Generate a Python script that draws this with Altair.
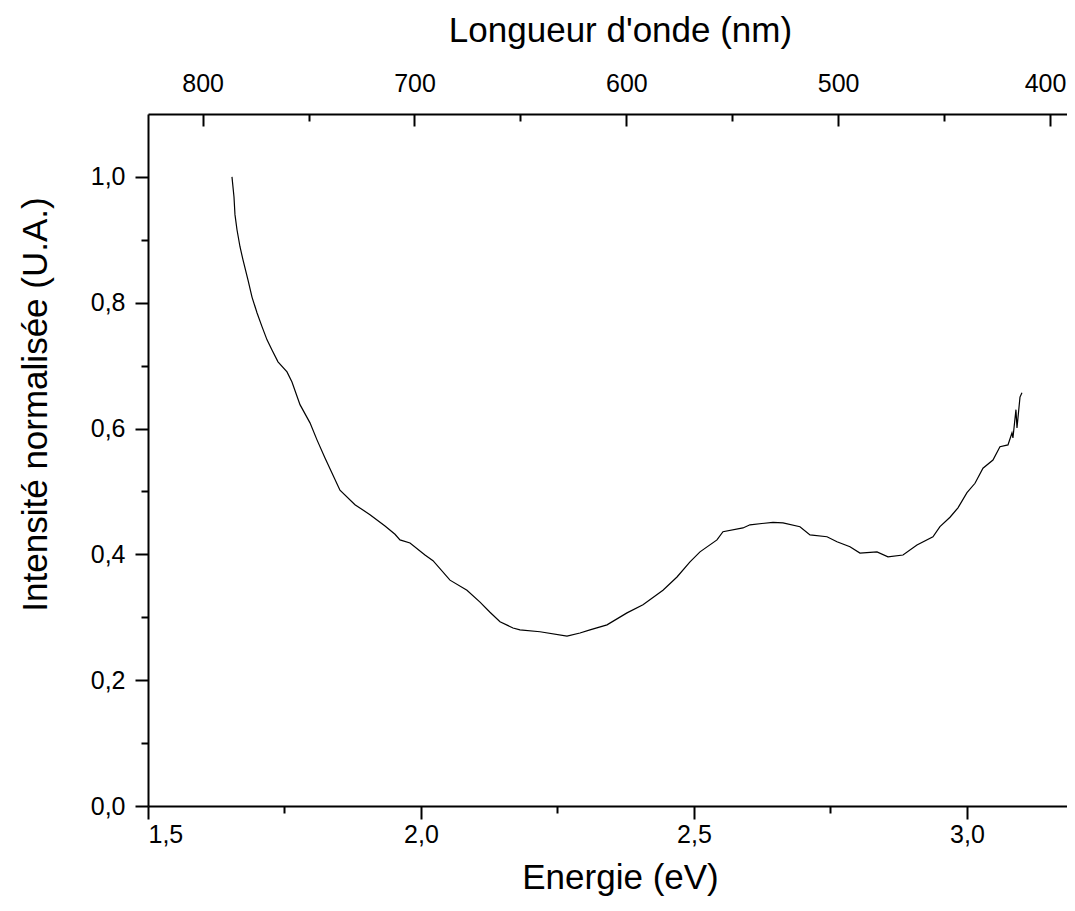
import altair as alt
import pandas as pd

# ---- data ----
energy = [1.6538, 1.6575, 1.6593, 1.6630, 1.6685, 1.6740, 1.6832, 1.6905, 1.6996, 1.7088,
          1.7180, 1.7271, 1.7381, 1.7546, 1.7637, 1.7784, 1.7967, 1.8095, 1.8242, 1.8516,
          1.8791, 1.9066, 1.9341, 1.9524, 1.9615, 1.9799, 2.0073, 2.0220, 2.0531, 2.0842,
          2.1081, 2.1264, 2.1447, 2.1685, 2.1813, 2.2179, 2.2674, 2.2912, 2.3095, 2.3407,
          2.3773, 2.4066, 2.4432, 2.4689, 2.4927, 2.5110, 2.5421, 2.5531, 2.5897, 2.6026,
          2.6447, 2.6630, 2.6941, 2.7125, 2.7436, 2.7619, 2.7857, 2.8040, 2.8352, 2.8553,
          2.8828, 2.9084, 2.9377, 2.9505, 2.9689, 2.9835, 3.0000, 3.0147, 3.0293, 3.0476,
          3.0604, 3.0751, 3.0824, 3.0842, 3.0897, 3.0916, 3.0971, 3.1007]
intensity = [1.000, 0.968, 0.940, 0.916, 0.889, 0.868, 0.836, 0.809, 0.784, 0.762,
             0.741, 0.725, 0.706, 0.690, 0.674, 0.638, 0.609, 0.582, 0.553, 0.502,
             0.479, 0.463, 0.445, 0.432, 0.423, 0.418, 0.399, 0.390, 0.359, 0.343,
             0.324, 0.308, 0.293, 0.283, 0.280, 0.277, 0.270, 0.275, 0.280, 0.288,
             0.307, 0.320, 0.343, 0.364, 0.388, 0.404, 0.423, 0.436, 0.442, 0.447,
             0.451, 0.450, 0.444, 0.431, 0.428, 0.420, 0.412, 0.402, 0.404, 0.396,
             0.399, 0.415, 0.428, 0.444, 0.459, 0.474, 0.498, 0.513, 0.537, 0.550,
             0.571, 0.574, 0.593, 0.585, 0.630, 0.601, 0.650, 0.657]

x_major = [1.5, 2.0, 2.5, 3.0]
x_minor = [1.75, 2.25, 2.75]
y_major = [0.0, 0.2, 0.4, 0.6, 0.8, 1.0]
y_minor = [0.1, 0.3, 0.5, 0.7, 0.9]
wl_major = [400, 500, 600, 700, 800]
wl_minor = [450, 550, 650, 750]

X_DOMAIN = [1.5, 3.1832]
Y_DOMAIN = [0.0, 1.1]
WL_DOMAIN = [391.98, 825.8]

W, H = 919, 692
FONT = "Liberation Sans"
TICK_FS = 25
TITLE_FS = 35
comma = "replace(format(datum.value, '.1f'), '.', ',')"

df = pd.DataFrame({"E": energy, "I": intensity})
wl_df = pd.DataFrame({"wl": wl_major})

xs = alt.Scale(domain=X_DOMAIN, nice=False, zero=False)
ys = alt.Scale(domain=Y_DOMAIN, nice=False, zero=False)
ws = alt.Scale(domain=WL_DOMAIN, nice=False, zero=False, reverse=True)

common = dict(domainColor="black", tickColor="black", labelColor="black",
              titleColor="black", labelFont=FONT, titleFont=FONT, grid=False)

line = alt.Chart(df).mark_line(color="black", strokeWidth=1.2).encode(
    x=alt.X("E:Q", scale=xs, axis=alt.Axis(
        orient="bottom", values=x_major, tickSize=13, tickWidth=2, domainWidth=2,
        labelExpr=comma, labelFontSize=TICK_FS, labelPadding=3,
        title="Energie (eV)", titleFontSize=TITLE_FS, titleFontWeight="normal",
        titleY=71, titleX=472, titleBaseline="middle", **common)),
    y=alt.Y("I:Q", scale=ys, axis=alt.Axis(
        orient="left", values=y_major, tickSize=13, tickWidth=2, domainWidth=2,
        labelExpr=comma, labelFontSize=TICK_FS, labelPadding=10,
        title="Intensité normalisée (U.A.)", titleFontSize=TITLE_FS,
        titleFontWeight="normal", titleX=-113, titleY=290,
        titleBaseline="middle", **common)),
)

minor = alt.Chart(df).mark_point(opacity=0).encode(
    x=alt.X("E:Q", scale=xs, axis=alt.Axis(
        orient="bottom", values=x_minor, tickSize=7, tickWidth=2, domain=False,
        labels=False, title=None, tickColor="black", grid=False)),
    y=alt.Y("I:Q", scale=ys, axis=alt.Axis(
        orient="left", values=y_minor, tickSize=7, tickWidth=2, domain=False,
        labels=False, title=None, tickColor="black", grid=False)),
)

top = alt.Chart(wl_df).mark_point(opacity=0).encode(
    x=alt.X("wl:Q", scale=ws, axis=alt.Axis(
        orient="top", values=wl_major, ticks=False, domainWidth=2,
        format="d", labelFontSize=TICK_FS, labelPadding=18,
        labelOffset={"condition": {"test": "datum.value == 400", "value": -5}, "value": 0},
        title="Longueur d'onde (nm)", titleFontSize=TITLE_FS,
        titleFontWeight="normal", titleY=-84, titleX=472,
        titleBaseline="middle", **common)),
)

top_ticks = alt.Chart(wl_df).mark_point(opacity=0).encode(
    x=alt.X("wl:Q", scale=ws, axis=alt.Axis(
        orient="bottom", offset=-H, values=wl_major, tickSize=12, tickWidth=2,
        domain=False, labels=False, title=None, tickColor="black", grid=False)),
)

top_minor = alt.Chart(wl_df).mark_point(opacity=0).encode(
    x=alt.X("wl:Q", scale=ws, axis=alt.Axis(
        orient="bottom", offset=-H, values=wl_minor, tickSize=7, tickWidth=2,
        domain=False, labels=False, title=None, tickColor="black", grid=False)),
)

chart = alt.layer(line, minor, top, top_ticks, top_minor).resolve_scale(
    x="independent", y="independent"
).resolve_axis(
    x="independent", y="independent"
).properties(
    width=W, height=H,
    autosize=alt.AutoSizeParams(type="none"),
    padding={"left": 140, "top": 106, "right": 0, "bottom": 100},
).configure_view(strokeWidth=0)

chart.save("out.html", embed_options={"renderer": "svg", "actions": False})
